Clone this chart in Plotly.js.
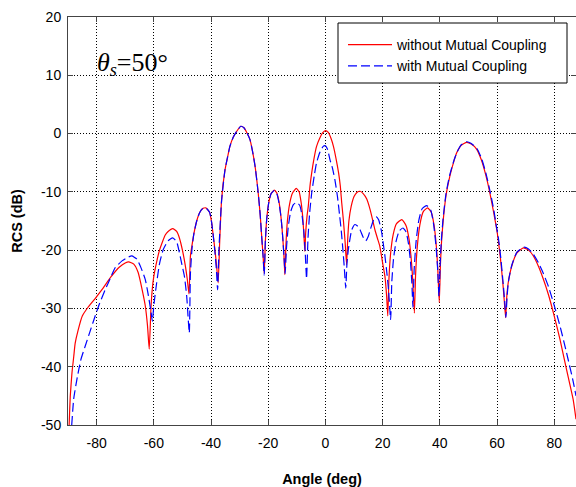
<!DOCTYPE html>
<html>
<head>
<meta charset="utf-8">
<script src="https://cdn.plot.ly/plotly-3.0.1.min.js"></script>
<style>html,body{margin:0;padding:0;background:#fff;}#chart{width:576px;height:487px;}</style>
</head>
<body>
<div id="chart"></div>
<script>
// Series: without Mutual Coupling (red solid)
var angleNoMC = [-89.6,-89.2,-88.6,-88.0,-87.5,-86.5,-85.0,-83.0,-80.5,-78.0,-75.0,-72.0,-70.0,-68.8,-67.0,-65.5,-64.2,-63.0,-62.2,-61.6,
 -61.0,-60.5,-60.0,-59.0,-58.0,-57.0,-56.0,-55.0,-53.4,-52.0,-51.0,-50.0,-49.0,-48.3,-47.7,
 -47.2,-46.6,-46.0,-45.0,-44.0,-43.0,-41.8,-40.5,-39.8,-39.2,-38.5,-38.0,-37.5,
 -37.0,-36.3,-35.1,-34.2,-33.4,-32.2,-31.0,-29.6,-28.5,-27.5,-26.4,-25.5,-24.6,-23.5,-22.8,-22.3,-21.8,-21.4,
 -21.0,-20.5,-19.8,-19.0,-17.9,-17.0,-16.2,-15.5,-14.9,-14.5,-14.2,
 -13.8,-13.3,-12.5,-11.5,-10.2,-9.2,-8.5,-8.0,-7.6,-7.2,
 -6.9,-6.4,-6.0,-5.4,-4.8,-4.0,-3.1,-2.0,-1.0,0.0,1.0,2.0,2.8,3.7,4.6,5.2,5.7,6.3,6.9,7.4,
 7.8,8.2,9.0,10.0,11.0,12.1,13.2,14.4,15.6,16.5,17.3,18.2,19.0,20.2,20.8,21.4,21.8,
 22.2,22.8,23.7,24.8,26.7,28.2,29.2,29.9,30.5,31.1,
 31.5,32.1,33.0,34.2,35.7,37.0,38.0,38.8,39.3,39.8,
 40.2,40.6,41.2,42.2,43.5,45.0,45.9,47.5,49.4,51.0,52.9,54.5,56.0,57.5,58.8,59.9,60.4,61.2,62.0,62.5,63.0,
 63.4,63.9,65.1,66.9,69.2,71.0,72.7,74.5,76.2,78.0,79.7,82.0,84.3,86.6,87.6];
var rcsNoMC = [-50,-45,-41,-38.3,-36,-33.8,-31.3,-29.8,-28.3,-26.7,-24.6,-22.9,-22.2,-22.0,-22.4,-23.8,-26.5,-29.5,-33,-37,
 -30,-26.5,-24.5,-22,-20,-18.6,-17.4,-16.8,-16.3,-16.8,-18,-20,-22.6,-25,-27.5,
 -21,-19,-17.2,-15,-13.6,-12.9,-12.75,-13.5,-15.2,-17.6,-20.5,-23,-25.6,
 -19,-11.3,-6.2,-4,-2.2,-0.6,0.4,1.25,1.0,0.2,-1.0,-3,-5.6,-10.2,-14,-17.6,-21,-24,
 -18.5,-14.5,-11.8,-10.3,-9.7,-10.2,-11.8,-14.5,-18,-21,-24.2,
 -19,-15,-12,-10.2,-9.4,-10,-11.8,-14,-16.8,-20.2,
 -17,-14,-12.5,-9,-6.75,-4.3,-2.2,-0.8,0.1,0.5,0.2,-0.9,-2.2,-4.3,-6.75,-9,-11.9,-15,-18.75,-22.5,
 -18,-15,-12.5,-10.8,-10.1,-9.9,-10.3,-11.2,-13,-14.8,-16.5,-18,-19.3,-22.8,-24.5,-27.9,-31.3,
 -25,-20.5,-17.3,-15.5,-14.75,-15.8,-18,-21,-25,-30.8,
 -24.5,-19.5,-15.7,-13.4,-12.75,-13.5,-15.8,-19.5,-23.5,-29,
 -22.5,-18.5,-14.75,-10.5,-7.3,-4.6,-3.3,-2.0,-1.5,-1.8,-2.7,-4.5,-7,-10.2,-13.5,-16.5,-18.2,-21.5,-25.5,-28.5,-31.6,
 -28,-25.6,-22.8,-20.5,-19.6,-20,-21,-22.8,-25,-27.7,-30.75,-35.3,-40.5,-45.6,-49];

// Series: with Mutual Coupling (blue dashed)
var angleMC = [-88.7,-88.0,-86.9,-85.5,-84.0,-82.0,-80.5,-79.0,-77.0,-75.0,-73.5,-71.0,-69.0,-67.7,-66.0,-64.5,-63.0,-62.0,-61.0,-60.5,
 -60.0,-59.0,-58.0,-56.7,-55.0,-53.4,-52.0,-50.3,-49.3,-48.5,-47.6,
 -47.2,-46.6,-46.0,-45.0,-44.0,-43.0,-41.8,-40.5,-39.8,-39.2,-38.6,-38.1,-37.7,
 -37.2,-36.3,-35.1,-34.2,-33.4,-32.2,-31.0,-29.6,-28.5,-27.5,-26.4,-25.5,-24.6,-23.5,-22.8,-22.3,-21.8,-21.4,
 -21.0,-20.5,-19.8,-19.0,-17.9,-17.0,-16.2,-15.5,-14.9,-14.5,-14.1,
 -13.6,-13.0,-12.2,-11.2,-10.1,-9.0,-8.2,-7.6,-7.1,-6.6,
 -6.1,-5.5,-4.8,-3.9,-3.1,-2.0,-0.8,0.0,0.8,1.6,2.5,3.3,4.2,5.0,5.6,6.2,6.6,7.1,
 7.5,8.0,9.2,10.3,11.3,12.1,13.2,14.1,15.0,15.8,17.0,17.8,18.6,19.6,20.8,21.5,22.1,22.8,
 23.2,23.8,24.7,25.8,27.1,28.2,29.0,29.7,30.2,30.6,
 31.0,31.7,32.6,33.8,35.4,36.8,37.8,38.6,39.2,39.7,
 40.1,40.5,41.1,42.1,43.4,45.0,46.0,47.5,49.4,51.0,53.0,54.6,56.1,57.6,58.9,59.8,60.5,61.3,62.1,62.7,63.1,
 63.5,64.0,65.2,67.0,69.4,71.0,72.7,74.5,76.2,78.0,79.7,82.0,84.3,86.6,87.6];
var rcsMC = [-50,-45.5,-42.2,-38.8,-36.5,-33.5,-31.3,-29.2,-26.8,-24.6,-23,-21.8,-21.2,-21,-21.5,-23,-25,-27.5,-30.5,-32.2,
 -29.5,-25.6,-22.3,-19.9,-18.4,-17.9,-18.6,-22.2,-24.5,-27.9,-34.2,
 -24,-19.5,-17.2,-15,-13.6,-12.9,-12.75,-13.5,-15.2,-17.6,-20.5,-23.5,-26.8,
 -19.5,-11.5,-6.2,-4,-2.2,-0.6,0.4,1.25,1.0,0.2,-1.0,-3,-5.6,-10.2,-14,-17.6,-21,-24.3,
 -18.5,-14.5,-11.8,-10.3,-9.8,-10.3,-12,-14.5,-18,-21,-24,
 -19.5,-16,-13.5,-12.2,-11.8,-12.3,-14,-16.5,-20,-24.9,
 -18,-13.5,-10.2,-7.2,-5.0,-3.3,-2.2,-2.1,-2.8,-4.5,-6,-7.9,-10.8,-14.2,-17,-20.5,-23,-26.5,
 -22.5,-19.9,-16.5,-15.6,-15.9,-16.5,-17.8,-18.4,-17.6,-16.3,-14.6,-14.3,-14.8,-16.8,-21,-24,-27,-31.9,
 -25.5,-21.5,-18.5,-16.7,-16.2,-16.9,-18.8,-21.8,-25.5,-29.8,
 -23.5,-18.5,-15,-12.9,-12.35,-13.1,-15.5,-19,-23,-27.9,
 -22.5,-18.5,-14.75,-10.5,-7.2,-4.5,-3.2,-1.9,-1.4,-1.7,-2.6,-4.3,-6.8,-10,-13.2,-16,-18,-21.3,-25.5,-29,-31.5,
 -28,-25.3,-22.5,-20.3,-19.5,-19.8,-20.7,-22.2,-24,-26.3,-29,-33,-37.6,-42.5,-45];

// Tick labels
var xTickVals = [-80,-60,-40,-20,0,20,40,60,80];
var xTickText = ['-80','-60','-40','-20','0','20','40','60','80'];
var yTickVals = [-50,-40,-30,-20,-10,0,10,20];
var yTickText = ['-50','-40','-30','-20','-10','0','10','20'];

var sans = 'Liberation Sans, Arial, sans-serif';

var traces = [
  {x: angleNoMC, y: rcsNoMC, type: 'scatter', mode: 'lines', name: 'without Mutual Coupling',
   line: {color: '#ff0000', width: 1.2, shape: 'spline', smoothing: 0.5}},
  {x: angleMC, y: rcsMC, type: 'scatter', mode: 'lines', name: 'with Mutual Coupling',
   line: {color: '#0000ff', width: 1.2, dash: '9px,4px', shape: 'spline', smoothing: 0.5}}
];

var axisCommon = {
  showline: true, linecolor: '#444', linewidth: 1, mirror: 'ticks',
  ticks: 'inside', ticklen: 5, tickcolor: '#444', tickwidth: 1,
  showgrid: true, gridcolor: '#000', gridwidth: 1, griddash: '1px,2px',
  zeroline: false, tickfont: {family: sans, size: 14, color: '#000'}
};

// plot area: x 68..576, y 17..425 (px)
function px2x(p) { return (p - 68) / 508; }
function px2y(p) { return (425 - p) / 408; }

var layout = {
  width: 576, height: 487,
  margin: {l: 68, r: 0, t: 17, b: 62},
  paper_bgcolor: '#fff', plot_bgcolor: '#fff',
  showlegend: true,
  xaxis: Object.assign({}, axisCommon, {
    range: [-90, 87.6], tickmode: 'array', tickvals: xTickVals, ticktext: xTickText,
    ticklabelstandoff: 5,
    title: {text: 'Angle (deg)', font: {family: sans, size: 14.5, color: '#000', weight: 'bold'}, standoff: 24}
  }),
  yaxis: Object.assign({}, axisCommon, {
    range: [-50, 20], tickmode: 'array', tickvals: yTickVals, ticktext: yTickText,
    ticklabelstandoff: 3,
    title: {text: 'RCS (dB)', font: {family: sans, size: 14.5, color: '#000', weight: 'bold'}, standoff: 14}
  }),
  shapes: [{
    type: 'rect', xref: 'paper', yref: 'paper', layer: 'above',
    x0: px2x(338), x1: px2x(567), y0: px2y(83), y1: px2y(23),
    fillcolor: '#fff', line: {color: '#000', width: 1}
  }],
  legend: {
    x: px2x(343), y: px2y(29), xanchor: 'left', yanchor: 'top',
    bgcolor: 'rgba(0,0,0,0)', borderwidth: 0,
    font: {family: sans, size: 14, color: '#000'},
    itemwidth: 44, tracegroupgap: 0
  },
  annotations: [{
    xref: 'paper', yref: 'paper', x: px2x(132), y: px2y(64), xanchor: 'center', yanchor: 'middle',
    text: '<i>θ<sub>s</sub></i>=50°', showarrow: false,
    font: {family: 'Liberation Serif, Times New Roman, serif', size: 26, color: '#000'}
  }]
};

Plotly.newPlot('chart', traces, layout, {displayModeBar: false, staticPlot: true});
</script>
</body>
</html>
